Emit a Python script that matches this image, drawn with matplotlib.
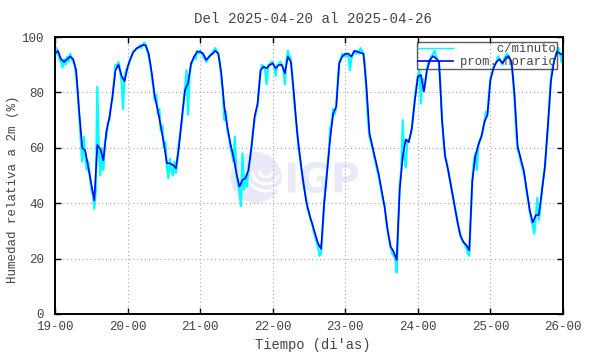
import matplotlib
matplotlib.use("Agg")
import matplotlib.pyplot as plt
from matplotlib.patches import Circle, Arc, PathPatch
from matplotlib.textpath import TextPath
from matplotlib.font_manager import FontProperties
from matplotlib.transforms import Affine2D
import pandas as pd

plt.rcParams['font.family'] = ['Liberation Mono', 'DejaVu Sans Mono']

# ---------------- data ----------------
start = "2025-04-19 00:00"
title = "Del 2025-04-20 al 2025-04-26"
xlabel = "Tiempo (di'as)"
ylabel = "Humedad relativa a 2m (%)"
day_ticks = ["19-00", "20-00", "21-00", "22-00", "23-00", "24-00", "25-00", "26-00"]
y_ticks = [0, 20, 40, 60, 80, 100]
legend_labels = ["     c/minuto", "prom. horario"]

# hourly averages (prom. horario)
hr19 = [94, 95, 92, 91, 92, 93, 92, 88, 73, 60, 59, 53, 47, 41, 61, 59.5, 55.5, 66, 71, 78.5, 88, 90, 86, 84]
hr20 = [89, 92.3, 94.7, 95.9, 96.5, 97.1, 97, 94, 87, 78.5, 73.6, 67.6, 61.6, 54.4, 54.4, 53.8, 52.6, 60.4, 71.2, 80.9, 83.3, 90.5, 92.9, 94.7]
hr21 = [94.7, 94, 91.7, 92.9, 93.9, 95, 94, 86.9, 74.8, 67.6, 61.6, 56.8, 50.8, 46, 48.4, 49, 52, 60.4, 71.2, 76, 88, 89.3, 88.7, 89.9]
hr22 = [90.5, 88.7, 89.9, 89.9, 86.9, 92.9, 91, 79.7, 66.4, 56.8, 48.4, 41.2, 36.4, 32.7, 29.1, 25.5, 23.5, 39.7, 51.5, 63.3, 72.4, 74.8, 90.5, 93]
hr23 = [93.9, 94, 92.9, 95, 94.7, 94.3, 94, 82, 65.2, 60.4, 55.6, 50.8, 44.8, 38.7, 30.3, 24.3, 22.5, 19.5, 45, 57, 63, 62, 67, 77]
hr24 = [85.7, 86.3, 80.3, 88, 91.7, 93.1, 92.3, 91, 70, 57, 52, 46, 40, 33.9, 28.5, 26.1, 24.9, 23, 48, 57, 61, 64, 69.3, 71.8]
hr25 = [84.5, 88.7, 91, 92, 90.5, 92.3, 93.1, 91, 78.5, 60.4, 56.2, 52, 44.8, 37.5, 33, 35.7, 35.7, 44, 53, 68, 84, 91, 94.7, 94]
hr_end = [93.5]

# per-minute series, read at 30-min spacing (c/minuto)
mn19 = [93, 96, 94, 92, 91, 89, 92, 90, 93, 91, 94, 92, 91, 90, 86, 80, 72, 63, 55, 64, 57, 52, 55, 50,
        45, 43, 38, 45, 82, 58, 50, 60, 52, 62, 64, 69, 70, 75, 78, 84, 90, 89, 91, 88, 84, 74, 86, 88]
mn20 = [89, 91, 92, 94, 95, 95, 96, 96, 97, 96, 97, 98, 97, 95, 93, 90, 86, 82, 77, 79, 72, 74, 66, 68,
        60, 62, 53, 49, 56, 52, 50, 55, 51, 56, 62, 66, 70, 76, 82, 88, 72, 86, 90, 91, 93, 92, 95, 94]
mn21 = [95, 94, 93, 92, 91, 92, 93, 94, 94, 95, 96, 95, 94, 91, 85, 80, 70, 73, 66, 64, 60, 58, 55, 64,
        50, 47, 44, 39, 58, 45, 50, 46, 53, 56, 61, 66, 70, 73, 75, 82, 88, 90, 89, 88, 83, 90, 90, 91]
mn22 = [91, 89, 86, 90, 90, 91, 90, 89, 83, 91, 95, 93, 92, 86, 78, 72, 67, 60, 57, 52, 49, 45, 42, 38,
        37, 34, 33, 30, 28, 26, 24, 21, 22, 30, 40, 46, 52, 58, 67, 69, 74, 72, 75, 84, 91, 92, 94, 93]
mn23 = [94, 93, 94, 88, 92, 94, 95, 94, 95, 94, 96, 95, 94, 90, 80, 70, 64, 62, 60, 57, 55, 52, 50, 47,
        44, 41, 39, 34, 30, 27, 24, 22, 21, 20, 15, 32, 46, 52, 70, 56, 53, 62, 63, 64, 67, 72, 78, 82]
mn24 = [86, 88, 76, 85, 81, 84, 88, 91, 92, 93, 94, 95, 93, 92, 91, 82, 70, 62, 57, 55, 52, 49, 46, 43,
        40, 37, 34, 31, 29, 27, 26, 25, 24, 22, 21, 35, 48, 55, 58, 52, 61, 63, 64, 66, 69, 73, 72, 79]
mn25 = [85, 87, 89, 90, 91, 93, 92, 91, 90, 92, 93, 94, 93, 92, 90, 85, 77, 66, 59, 58, 55, 53, 51, 48,
        44, 41, 37, 34, 32, 29, 35, 42, 34, 38, 45, 49, 53, 60, 67, 76, 85, 89, 91, 93, 95, 96, 94, 91]
mn_end = [94]

hourly = hr19 + hr20 + hr21 + hr22 + hr23 + hr24 + hr25 + hr_end
minute = mn19 + mn20 + mn21 + mn22 + mn23 + mn24 + mn25 + mn_end

t_hour = pd.date_range(start, periods=len(hourly), freq="60min")
t_min = pd.date_range(start, periods=len(minute), freq="30min")

# ---------------- figure ----------------
W, H = 590, 354
fig = plt.figure(figsize=(W / 100, H / 100), dpi=100)
ax = fig.add_axes([55 / W, 40 / H, (563 - 55) / W, (314 - 37) / H])

# watermark logo (pixel coordinates, origin bottom-left)
wm = "#e9e9f7"
logo = Circle((256, H - 177.5), 25.5, transform=None, facecolor=wm, edgecolor="none", zorder=0.5)
ax.add_artist(logo)
for rr in (7, 14, 21):
    arc = Arc((266, H - 170), 2 * rr, 2 * rr, theta1=190, theta2=340, transform=None,
              color="white", lw=2.0, zorder=0.6)
    ax.add_artist(arc)
tp = TextPath((0, 0), "IGP", size=40, prop=FontProperties(family="DejaVu Sans", weight="bold"))
ext = tp.get_extents()
sx = (358 - 288) / ext.width
sy = (193 - 162) / ext.height
tr = Affine2D().translate(-ext.x0, -ext.y0).scale(sx, sy).translate(288, H - 193)
ax.add_artist(PathPatch(tr.transform_path(tp), transform=None, facecolor=wm,
                        edgecolor="none", zorder=0.5))

ax.plot(t_min, minute, color="#00ffff", lw=1.6, label=legend_labels[0], zorder=2)
ax.plot(t_hour, hourly, color="#0000ff", lw=1.2, label=legend_labels[1], zorder=3)

ax.set_xlim(pd.Timestamp(start), pd.Timestamp(start) + pd.Timedelta(days=7))
ax.set_ylim(0, 100)
ax.set_yticks(y_ticks)
xt = pd.date_range(start, periods=len(day_ticks), freq="1D")
ax.set_xticks(xt)
ax.set_xticklabels(day_ticks)

ax.grid(True, color="#a8a8a8", lw=0.8, linestyle=(0, (1, 2.5)))
ax.tick_params(direction="in", top=True, right=True, length=4, width=1,
               labelsize=9, colors="black", labelcolor="#444444")
ax.tick_params(axis="y", pad=8)
ax.tick_params(axis="x", pad=5)
for s in ax.spines.values():
    s.set_linewidth(1.4)
    s.set_color("black")

fig.text(313 / W, 1 - 19 / H, title, fontsize=10.2, color="#444444", ha="center", va="center")
ax.set_xlabel(xlabel, fontsize=9.9, color="#444444")
ax.xaxis.set_label_coords((313 - 55) / 508, -(345 - 314) / 277)
ax.xaxis.label.set_va("center")
ax.set_ylabel(ylabel, fontsize=9, color="#444444")
ax.yaxis.set_label_coords((13 - 55) / 508, (314 - 189) / 277)
ax.yaxis.label.set_va("center")

leg = ax.legend(loc="upper right", bbox_to_anchor=(557 / W, (H - 42) / H),
                bbox_transform=fig.transFigure, frameon=True, fancybox=False,
                edgecolor="#333333", fontsize=8.8, handlelength=2.9,
                handletextpad=0.55, borderpad=0.1, labelspacing=0.05, borderaxespad=0)
leg.get_frame().set_facecolor("none")
leg.get_frame().set_linewidth(1.0)
for t in leg.get_texts():
    t.set_color("#444444")
leg.get_lines()[0].set_linewidth(1.0)

fig.savefig("out.png", dpi=100)
